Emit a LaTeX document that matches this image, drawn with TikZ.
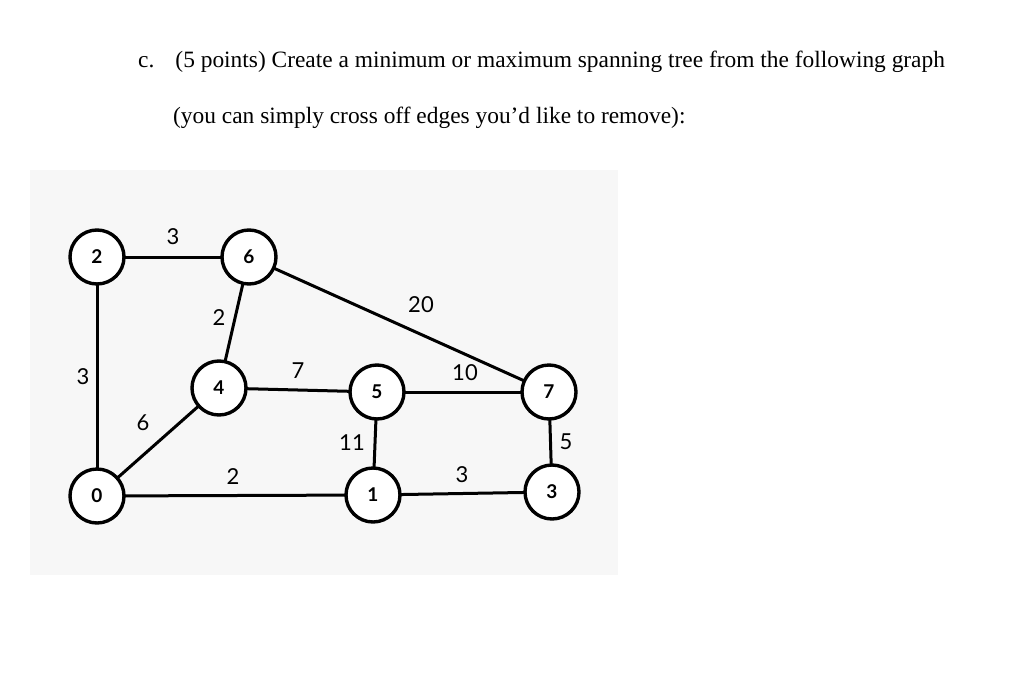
\documentclass[tikz,border=0pt]{standalone}
\usepackage{fontspec}
\setmainfont{Liberation Serif}
\newfontfamily\lato{Lato}
\begin{document}
\begin{tikzpicture}[x=1pt,y=-1pt,
  vtx/.style={circle,draw,line width=3.4pt,fill=white,minimum size=54pt,inner sep=0pt,font=\lato\bfseries\fontsize{19}{21}\selectfont},
  edg/.style={line width=3pt},
  wt/.style={font=\lato\fontsize{22}{24}\selectfont,inner sep=0pt}]
\useasboundingbox (0,0) rectangle (1024,696);
\fill[white] (0,0) rectangle (1024,696);
\fill[black!3] (30,170) rectangle (618,575);
\draw[edg] (97,257) coordinate (c2) -- (249,257) coordinate (c6);
\node[anchor=base west,font=\fontsize{23.4}{26}\selectfont,inner sep=0pt] (t1) at (138,67) {c.\hspace{0.9em}(5 points) Create a minimum or maximum spanning tree from the following graph};
\node[anchor=base west,font=\fontsize{23.4}{26}\selectfont,inner sep=0pt] (t2) at (173,123) {(you can simply cross off edges you’d like to remove):};
\coordinate (c4) at (219,388);
\coordinate (c5) at (377,392);
\coordinate (c7) at (549,392);
\coordinate (c0) at (97,496);
\coordinate (c1) at (373,495);
\coordinate (c3) at (552,492);
\draw[edg] (c2) -- (c0);
\draw[edg] (c6) -- (c4);
\draw[edg] (c6) -- (c7);
\draw[edg] (c4) -- (c5);
\draw[edg] (c4) -- (c0);
\draw[edg] (c5) -- (c7);
\draw[edg] (c5) -- (c1);
\draw[edg] (c7) -- (c3);
\draw[edg] (c0) -- (c1);
\draw[edg] (c1) -- (c3);
\node[vtx] (n2) at (c2) {2};
\node[vtx] (n6) at (c6) {6};
\node[vtx] (n4) at (c4) {4};
\node[vtx] (n5) at (c5) {5};
\node[vtx] (n7) at (c7) {7};
\node[vtx] (n0) at (c0) {0};
\node[vtx] (n1) at (c1) {1};
\node[vtx] (n3) at (c3) {3};
\node[wt] (w1) at (173,237) {3};
\node[wt] (w2) at (83,377) {3};
\node[wt] (w3) at (219,318) {2};
\node[wt] (w4) at (143,423) {6};
\node[wt] (w5) at (298,371) {7};
\node[wt] (w6) at (421,305) {20};
\node[wt] (w7) at (465,373) {10};
\node[wt] (w8) at (352,443) {11};
\node[wt] (w9) at (566,442) {5};
\node[wt] (w10) at (233,477) {2};
\node[wt] (w11) at (462,475) {3};
\end{tikzpicture}
\end{document}
